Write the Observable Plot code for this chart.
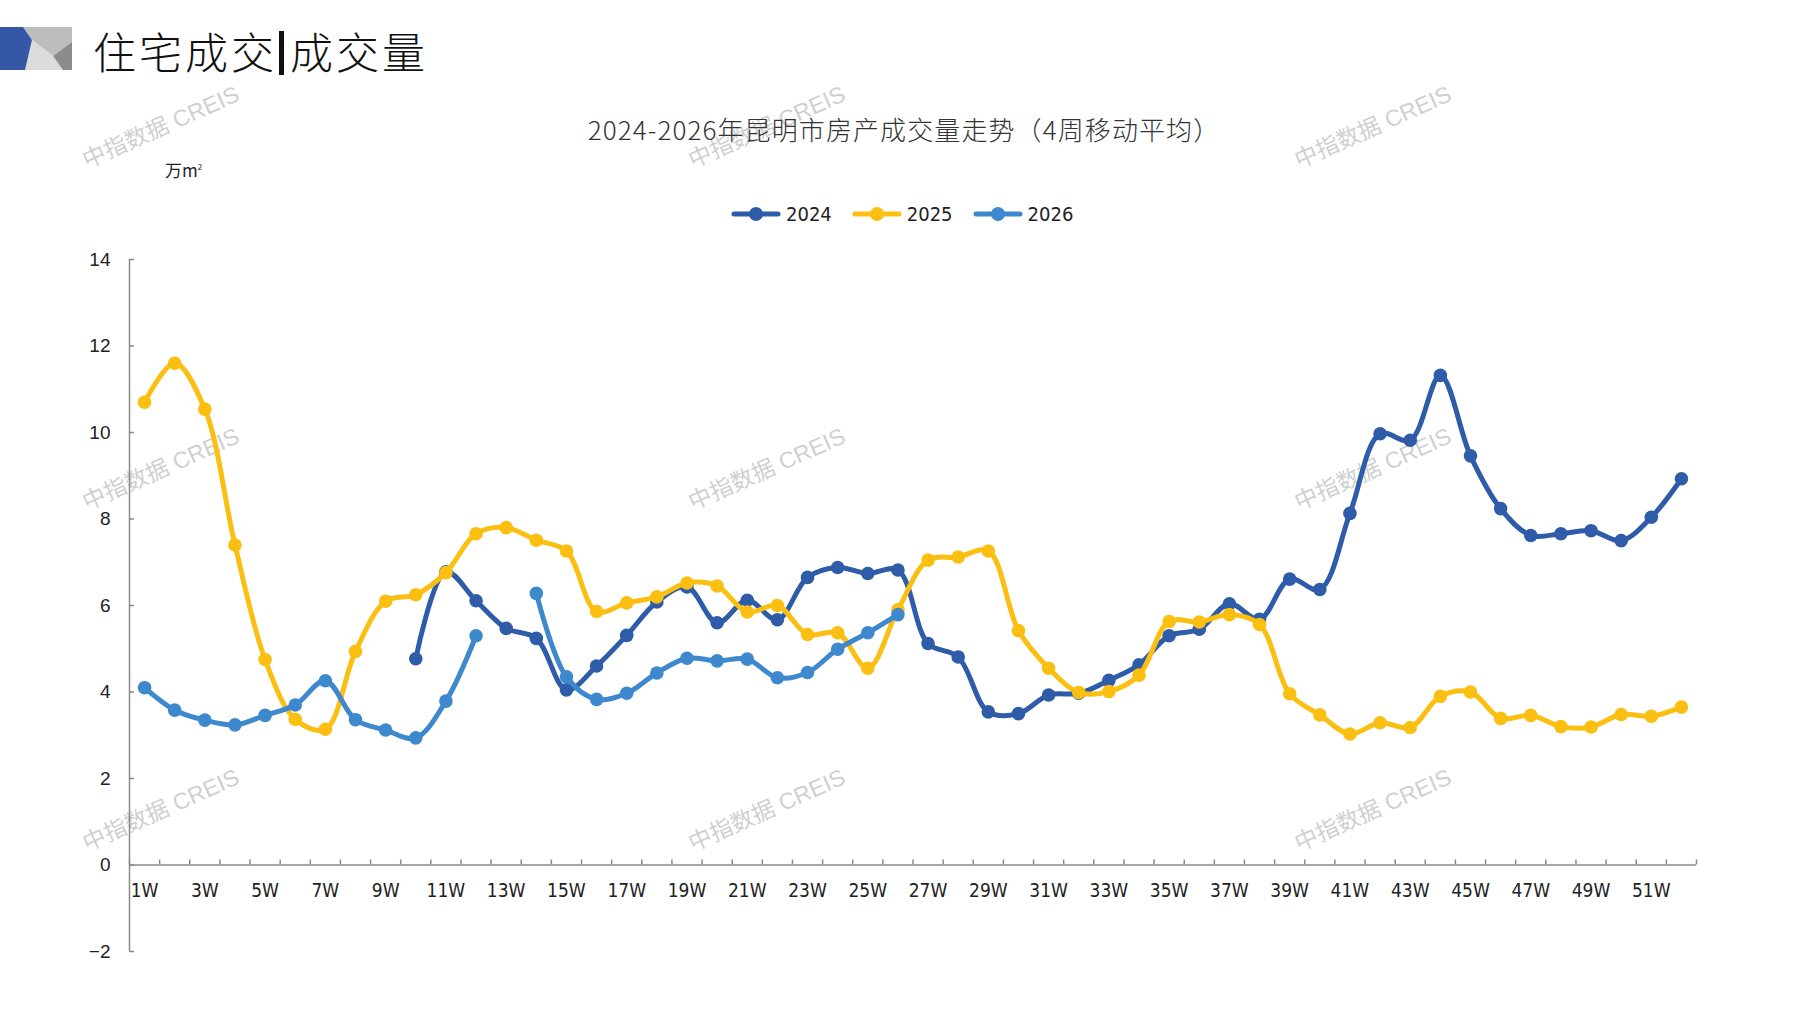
<!DOCTYPE html>
<html>
<head>
<meta charset="utf-8">
<script src="https://cdn.jsdelivr.net/npm/d3@7"></script>
<script src="https://cdn.jsdelivr.net/npm/@observablehq/plot@0.6"></script>
<style>
html, body { margin: 0; padding: 0; background: #fff; }
#wrap { position: relative; width: 1797px; height: 1010px; overflow: hidden; font-family: "Noto Sans CJK SC", sans-serif; }
.wm { position: absolute; color: rgba(165,165,165,0.55); font-family: "Liberation Sans", "Noto Sans CJK SC", sans-serif; font-size: 23px; transform: translate(-50%, -50%) rotate(-24deg); white-space: nowrap; z-index: 0; }
#chart { position: absolute; left: 0; top: 0; z-index: 1; }
#head { position: absolute; left: 93px; top: 22px; font-size: 43px; letter-spacing: 3px; color: #111; z-index: 2; font-family: "Noto Sans CJK SC", serif; font-weight: 300; line-height: 56px; }
#head .bar { display: inline-block; width: 5px; height: 44px; background: #111; vertical-align: -6px; margin: 0 6px 0 2px; }
#deco { position: absolute; left: 0; top: 27px; z-index: 2; }
#ctitle { position: absolute; left: 0; width: 1808px; top: 110px; text-align: center; font-size: 26px; letter-spacing: 1.1px; color: #333; z-index: 2; font-family: "Noto Sans CJK SC", sans-serif; font-weight: 300; }
#unit { position: absolute; left: 165px; top: 157px; font-size: 17px; color: #222; z-index: 2; font-family: "Noto Sans CJK SC", sans-serif; }
#unit sup { font-size: 8px; }
#legend { position: absolute; left: 731px; top: 202px; display: flex; gap: 20px; z-index: 2; font-family: "DejaVu Sans Condensed", "DejaVu Sans", sans-serif; font-stretch: condensed; font-size: 20px; color: #222; }
#legend .item { display: flex; align-items: center; gap: 5px; }
</style>
</head>
<body>
<div id="wrap">
  <svg id="deco" width="72" height="43" viewBox="0 0 72 43">
    <polygon points="23,0 72,0 72,15 53,29 32,13" fill="#bdbdbd"/>
    <polygon points="32,13 53,29 63,43 25,43" fill="#dcdcdc"/>
    <polygon points="72,15 72,43 63,43 53,29" fill="#8c8c8c"/>
    <polygon points="0,0 23,0 32,13 25,43 0,43" fill="#3458a6"/>
  </svg>
  <div id="head">住宅成交<span class="bar"></span>成交量</div>
  <div id="ctitle">2024-2026年昆明市房产成交量走势（4周移动平均）</div>
  <div id="unit">万m<sup>2</sup></div>
  <div id="legend"></div>
  <div id="chart"></div>
</div>
<script>
// ---- data ----
const weeks = ["1W","2W","3W","4W","5W","6W","7W","8W","9W","10W","11W","12W","13W","14W","15W","16W","17W","18W","19W","20W","21W","22W","23W","24W","25W","26W","27W","28W","29W","30W","31W","32W","33W","34W","35W","36W","37W","38W","39W","40W","41W","42W","43W","44W","45W","46W","47W","48W","49W","50W","51W","52W"];
const seriesNames = ["2024", "2025", "2026"];
const seriesColors = ["#2E5CA8", "#FBBF12", "#3E88CE"];
const v2024 = [null,null,null,null,null,null,null,null,null,4.77,6.78,6.11,5.47,5.24,4.05,4.60,5.31,6.08,6.43,5.60,6.12,5.67,6.65,6.88,6.74,6.82,5.12,4.81,3.54,3.50,3.93,3.97,4.27,4.63,5.30,5.45,6.04,5.68,6.61,6.37,8.13,9.97,9.82,11.32,9.46,8.24,7.62,7.66,7.73,7.50,8.04,8.93];
const v2025 = [10.70,11.60,10.54,7.40,4.75,3.37,3.14,4.94,6.10,6.25,6.76,7.66,7.80,7.51,7.26,5.86,6.06,6.20,6.52,6.45,5.85,6.00,5.33,5.37,4.55,5.90,7.05,7.12,7.26,5.42,4.55,3.99,4.01,4.39,5.63,5.62,5.79,5.56,3.96,3.47,3.03,3.29,3.18,3.90,4.00,3.39,3.46,3.20,3.19,3.48,3.44,3.65];
const v2026 = [4.10,3.58,3.35,3.24,3.46,3.70,4.26,3.36,3.12,2.94,3.79,5.30,null,6.28,4.35,3.83,3.97,4.44,4.78,4.72,4.76,4.33,4.45,4.99,5.37,5.79,null,null,null,null,null,null,null,null,null,null,null,null,null,null,null,null,null,null,null,null,null,null,null,null,null,null];
const yTicks = [-2, 0, 2, 4, 6, 8, 10, 12, 14];
const xTickLabels = ["1W","3W","5W","7W","9W","11W","13W","15W","17W","19W","21W","23W","25W","27W","29W","31W","33W","35W","37W","39W","41W","43W","45W","47W","49W","51W"];
const watermark = "中指数据 CREIS";

// ---- build table ----
const allSeries = [v2024, v2025, v2026];
const rows = [];
allSeries.forEach((arr, si) => arr.forEach((v, i) => rows.push({series: seriesNames[si], wk: i + 1, week: weeks[i], value: v})));
const pos = w => weeks.indexOf(w) + 1;
const boundaries = [0.5].concat(weeks.map((w, i) => i + 1.5));

const axisColor = "#8a8a8a";
const condensed = "DejaVu Sans Condensed, DejaVu Sans, sans-serif";

const marks = [
  Plot.ruleX([0.5], {y1: -2, y2: 14, stroke: axisColor, strokeWidth: 1.5}),
  Plot.ruleY(yTicks, {x1: 0.5, x2: 0.5, insetRight: -5, stroke: axisColor, strokeWidth: 1.5}),
  Plot.ruleY([0], {x1: 0.5, x2: weeks.length + 0.5, stroke: axisColor, strokeWidth: 1.5}),
  Plot.ruleX(boundaries, {y1: 0, y2: 0, insetTop: -5, stroke: axisColor, strokeWidth: 1.5}),
  Plot.text(yTicks, {x: 0.5, y: d => d, text: d => d < 0 ? "\u2212" + Math.abs(d) : String(d), textAnchor: "end", dx: -19, fontSize: 19, fontFamily: "Liberation Sans, Arial, sans-serif", fill: "#222"}),
  Plot.text(xTickLabels, {x: d => pos(d), y: 0, text: d => d, dy: 26, fontSize: 19, fontFamily: condensed, fill: "#222"})
];
seriesNames.forEach((s, si) => {
  const data = rows.filter(d => d.series === s);
  marks.push(Plot.line(data, {x: "wk", y: "value", stroke: seriesColors[si], strokeWidth: 5, curve: "catmull-rom"}));
  marks.push(Plot.dot(data.filter(d => d.value != null), {x: "wk", y: "value", fill: seriesColors[si], r: 6.8}));
});

const chart = Plot.plot({
  width: 1797,
  height: 1010,
  marginLeft: 129,
  marginRight: 101,
  marginTop: 259,
  marginBottom: 59,
  style: {background: "transparent", overflow: "visible"},
  x: {type: "linear", domain: [0.5, weeks.length + 0.5], axis: null},
  y: {domain: [-2, 14], axis: null},
  marks
});
document.getElementById("chart").appendChild(chart);

// ---- legend ----
const legend = document.getElementById("legend");
seriesNames.forEach((s, si) => {
  const item = document.createElement("div");
  item.className = "item";
  item.innerHTML = `<svg width="50" height="16"><line x1="3" y1="8" x2="47" y2="8" stroke="${seriesColors[si]}" stroke-width="5" stroke-linecap="round"/><circle cx="25" cy="8" r="7" fill="${seriesColors[si]}"/></svg><span>${s}</span>`;
  legend.appendChild(item);
});

// ---- watermarks ----
const wmX = [160, 766, 1372];
const wmY = [125, 467, 808];
const wrap = document.getElementById("wrap");
wmY.forEach(y => wmX.forEach(x => {
  const d = document.createElement("div");
  d.className = "wm";
  d.style.left = x + "px";
  d.style.top = y + "px";
  d.textContent = watermark;
  wrap.appendChild(d);
}));
</script>
</body>
</html>
